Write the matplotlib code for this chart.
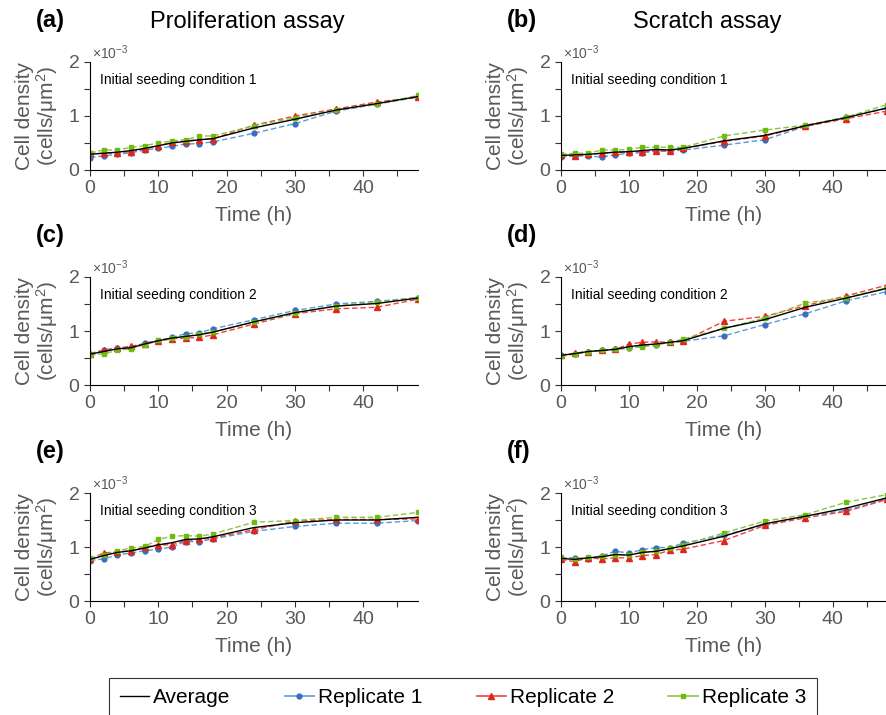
import numpy as np
from matplotlib import pyplot as plt
from matplotlib.ticker import MultipleLocator
from matplotlib.lines import Line2D

plt.rcParams['font.family'] = ['Liberation Sans', 'DejaVu Sans']
plt.rcParams['mathtext.fontset'] = 'custom'
plt.rcParams['mathtext.rm'] = 'Liberation Sans'
plt.rcParams['mathtext.it'] = 'Liberation Sans:italic'

# time points (h); densities in units of 1e-3 cells/um^2
time = [0, 2, 4, 6, 8, 10, 12, 14, 16, 18, 24, 30, 36, 42, 48]

a_avg = [0.29, 0.31, 0.33, 0.36, 0.40, 0.45, 0.50, 0.53, 0.56, 0.58, 0.78, 0.94, 1.11, 1.23, 1.36]
a_rep1 = [0.23, 0.26, 0.29, 0.32, 0.37, 0.40, 0.44, 0.48, 0.49, 0.52, 0.68, 0.86, 1.09, 1.22, 1.35]
a_rep2 = [0.31, 0.31, 0.32, 0.34, 0.39, 0.45, 0.51, 0.54, 0.56, 0.58, 0.83, 1.00, 1.13, 1.26, 1.35]
a_rep3 = [0.32, 0.37, 0.37, 0.42, 0.45, 0.50, 0.54, 0.56, 0.63, 0.63, 0.82, 0.97, 1.11, 1.22, 1.38]

b_avg = [0.27, 0.28, 0.29, 0.31, 0.33, 0.34, 0.36, 0.38, 0.37, 0.40, 0.54, 0.64, 0.82, 0.97, 1.15]
b_rep1 = [0.24, 0.26, 0.26, 0.24, 0.28, 0.31, 0.32, 0.35, 0.35, 0.37, 0.46, 0.56, 0.81, 0.98, 1.14]
b_rep2 = [0.28, 0.26, 0.29, 0.31, 0.33, 0.33, 0.34, 0.36, 0.35, 0.40, 0.53, 0.63, 0.81, 0.95, 1.09]
b_rep3 = [0.29, 0.31, 0.31, 0.37, 0.37, 0.38, 0.42, 0.42, 0.42, 0.42, 0.63, 0.74, 0.83, 0.98, 1.21]

c_avg = [0.57, 0.62, 0.67, 0.69, 0.76, 0.82, 0.87, 0.90, 0.93, 0.98, 1.17, 1.34, 1.46, 1.51, 1.61]
c_rep1 = [0.58, 0.65, 0.69, 0.69, 0.78, 0.82, 0.88, 0.95, 0.97, 1.04, 1.21, 1.38, 1.50, 1.55, 1.62]
c_rep2 = [0.58, 0.64, 0.68, 0.72, 0.76, 0.81, 0.86, 0.87, 0.88, 0.93, 1.13, 1.32, 1.41, 1.44, 1.59]
c_rep3 = [0.55, 0.58, 0.64, 0.67, 0.75, 0.83, 0.87, 0.89, 0.95, 0.98, 1.16, 1.33, 1.47, 1.53, 1.62]

d_avg = [0.55, 0.58, 0.62, 0.64, 0.66, 0.71, 0.74, 0.76, 0.79, 0.82, 1.05, 1.21, 1.44, 1.61, 1.79]
d_rep1 = [0.56, 0.58, 0.62, 0.64, 0.67, 0.68, 0.73, 0.75, 0.79, 0.81, 0.91, 1.12, 1.32, 1.56, 1.73]
d_rep2 = [0.55, 0.59, 0.62, 0.64, 0.66, 0.76, 0.79, 0.80, 0.79, 0.81, 1.18, 1.27, 1.47, 1.65, 1.85]
d_rep3 = [0.53, 0.57, 0.61, 0.64, 0.66, 0.68, 0.71, 0.74, 0.79, 0.85, 1.05, 1.24, 1.52, 1.62, 1.80]

e_avg = [0.77, 0.84, 0.90, 0.93, 0.98, 1.04, 1.08, 1.14, 1.15, 1.19, 1.36, 1.45, 1.50, 1.50, 1.55]
e_rep1 = [0.75, 0.78, 0.85, 0.89, 0.93, 0.96, 1.00, 1.10, 1.10, 1.15, 1.29, 1.38, 1.44, 1.44, 1.49]
e_rep2 = [0.77, 0.89, 0.91, 0.93, 1.00, 1.04, 1.04, 1.12, 1.14, 1.17, 1.32, 1.48, 1.51, 1.51, 1.52]
e_rep3 = [0.79, 0.85, 0.93, 0.98, 1.01, 1.14, 1.20, 1.21, 1.20, 1.24, 1.46, 1.49, 1.55, 1.55, 1.64]

f_avg = [0.79, 0.77, 0.80, 0.82, 0.86, 0.85, 0.90, 0.92, 0.97, 1.02, 1.20, 1.43, 1.57, 1.72, 1.91]
f_rep1 = [0.80, 0.80, 0.78, 0.84, 0.92, 0.89, 0.95, 0.99, 0.99, 1.07, 1.22, 1.41, 1.57, 1.68, 1.89]
f_rep2 = [0.77, 0.73, 0.80, 0.78, 0.80, 0.80, 0.84, 0.86, 0.94, 0.96, 1.12, 1.40, 1.54, 1.66, 1.88]
f_rep3 = [0.81, 0.78, 0.81, 0.83, 0.86, 0.85, 0.90, 0.92, 0.98, 1.04, 1.26, 1.48, 1.60, 1.83, 1.97]

panels = [
    ("(a)", 1, a_avg, a_rep1, a_rep2, a_rep3),
    ("(b)", 1, b_avg, b_rep1, b_rep2, b_rep3),
    ("(c)", 2, c_avg, c_rep1, c_rep2, c_rep3),
    ("(d)", 2, d_avg, d_rep1, d_rep2, d_rep3),
    ("(e)", 3, e_avg, e_rep1, e_rep2, e_rep3),
    ("(f)", 3, f_avg, f_rep1, f_rep2, f_rep3),
]

GREY = "#595959"
REP_STYLES = [
    dict(color="#5b9bd5", marker="o", mfc="#3a6cc0", mec="#3a6cc0", ms=3.5),
    dict(color="#f0443a", marker="^", mfc="#e0261c", mec="#e0261c", ms=4.5),
    dict(color="#8cc63f", marker="s", mfc="#6fbb10", mec="#6fbb10", ms=3.5),
]

W, H = 887, 715
fig = plt.figure(figsize=(W / 100, H / 100), dpi=100)

lefts = [90, 561]
widths = [328, 326]
bottoms = [170, 385, 601]
height = 108


def draw_panel(ax, letter, cond, avg, reps):
    for rep, st in zip(reps, REP_STYLES):
        ax.plot(time, rep, ls=(0, (4, 2)), lw=1.0, color=st["color"],
                marker=st["marker"], ms=st["ms"], mfc=st["mfc"], mec=st["mec"])
    ax.plot(time, avg, color="black", lw=1.0)
    ax.set_xlim(0, 48)
    ax.set_ylim(0, 2)
    ax.xaxis.set_major_locator(MultipleLocator(10))
    ax.xaxis.set_minor_locator(MultipleLocator(5))
    ax.yaxis.set_major_locator(MultipleLocator(1))
    ax.yaxis.set_minor_locator(MultipleLocator(0.5))
    ax.tick_params(which="both", direction="out", length=4, width=0.8,
                   labelsize=14, labelcolor=GREY, color="#333333")
    for s in ["top", "right"]:
        ax.spines[s].set_visible(False)
    ax.set_xlabel("Time (h)", fontsize=15, color=GREY, labelpad=6)
    ax.set_ylabel("Cell density\n(cells/μm$^2$)", fontsize=15, color=GREY,
                  labelpad=6, linespacing=1.0)
    ax.text(0.005, 1.0, "×10$^{-3}$", transform=ax.transAxes, fontsize=10,
            color=GREY, va="bottom", ha="left")
    ax.text(0.03, 0.83, "Initial seeding condition %d" % cond,
            transform=ax.transAxes, fontsize=10, color="black", va="center")
    bb = ax.get_position()
    fig.text(bb.x0 - 54 / W, bb.y1 + 41 / H, letter, fontsize=17,
             fontweight="bold", va="center", ha="left")


for i, (letter, cond, avg, r1, r2, r3) in enumerate(panels):
    row, col = divmod(i, 2)
    ax = fig.add_axes([lefts[col] / W, 1 - bottoms[row] / H,
                       widths[col] / W, height / H])
    draw_panel(ax, letter, cond, avg, [r1, r2, r3])

fig.text(247 / W, 1 - 22 / H, "Proliferation assay", fontsize=17,
         ha="center", va="center")
fig.text(707 / W, 1 - 22 / H, "Scratch assay", fontsize=17,
         ha="center", va="center")

handles = [Line2D([], [], color="black", lw=1.0)]
for st in REP_STYLES:
    handles.append(Line2D([], [], color=st["color"], lw=1.2, marker=st["marker"],
                          ms=st["ms"], mfc=st["mfc"], mec=st["mec"]))
leg = fig.legend(handles, ["Average", "Replicate 1", "Replicate 2", "Replicate 3"],
                 loc="upper center", bbox_to_anchor=(463 / W, 1 - 678 / H),
                 ncol=4, fontsize=15, frameon=True, fancybox=False,
                 handlelength=1.4, handletextpad=0.2, columnspacing=2.6,
                 borderpad=0.5, borderaxespad=0, edgecolor="black")
leg.get_frame().set_linewidth(0.8)

fig.savefig("out.png", dpi=100)
